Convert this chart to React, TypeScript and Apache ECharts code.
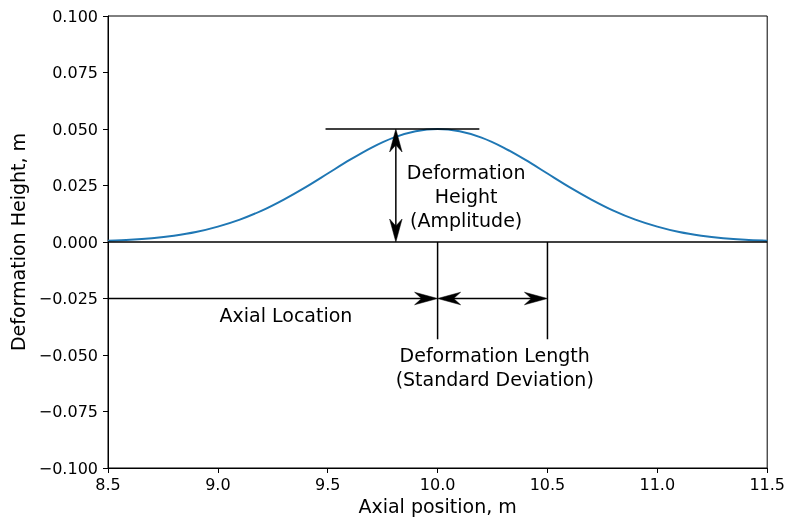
import React, { useEffect, useRef } from "react";
import * as echarts from "echarts";

const axialPositions = [
  8.5, 8.6, 8.7, 8.8, 8.9, 9.0, 9.1, 9.2, 9.3, 9.4, 9.5, 9.6, 9.7, 9.8, 9.9, 10.0,
  10.1, 10.2, 10.3, 10.4, 10.5, 10.6, 10.7, 10.8, 10.9, 11.0, 11.1, 11.2, 11.3, 11.4, 11.5,
];
const deformationHeights = [
  0.00056, 0.00099, 0.0017, 0.0028, 0.0044, 0.0068, 0.0099, 0.0139, 0.0188, 0.0243, 0.0303,
  0.0363, 0.0418, 0.0462, 0.049, 0.05, 0.049, 0.0462, 0.0418, 0.0363, 0.0303, 0.0243, 0.0188,
  0.0139, 0.0099, 0.0068, 0.0044, 0.0028, 0.0017, 0.00099, 0.00056,
];

const baseLine = [[8.5, 0], [11.5, 0]];
const peakLine = [[9.49, 0.05], [10.19, 0.05]];
const meanLine = [[10.0, 0], [10.0, -0.043]];
const sigmaLine = [[10.5, 0], [10.5, -0.043]];
// [x1, y1, x2, y2, headAtStart, headAtEnd]
const arrows = [
  [9.81, 0, 9.81, 0.05, 1, 1],
  [8.5, -0.025, 10.0, -0.025, 0, 1],
  [10.0, -0.025, 10.5, -0.025, 1, 1],
];

const annotationTexts = ["Deformation\nHeight\n(Amplitude)", "Axial Location", "Deformation Length\n(Standard Deviation)"];
const annotationPositions = [[10.13, 0.0204], [9.31, -0.0323], [10.26, -0.0553]];

const FONT = "DejaVu Sans";
const HEAD_LEN = 23;
const HEAD_W = 12.5;
const NOTCH = 7;

function headPoints(tip: number[], dx: number, dy: number) {
  const px = -dy;
  const py = dx;
  const bx = tip[0] - dx * HEAD_LEN;
  const by = tip[1] - dy * HEAD_LEN;
  return [
    [tip[0], tip[1]],
    [bx + px * HEAD_W / 2, by + py * HEAD_W / 2],
    [bx + dx * NOTCH, by + dy * NOTCH],
    [bx - px * HEAD_W / 2, by - py * HEAD_W / 2],
  ];
}

export default function App() {
  const ref = useRef<HTMLDivElement>(null);
  useEffect(() => {
    if (!ref.current) return;
    const chart = echarts.init(ref.current, undefined, { renderer: "svg" });
    const plainLine = (data: number[][]) => ({
      type: "line",
      data,
      symbol: "none",
      silent: true,
      lineStyle: { color: "#000", width: 1.5 },
      z: 3,
    });
    chart.setOption({
      animation: false,
      grid: {
        left: 108,
        right: 18,
        top: 16,
        bottom: 55,
        show: true,
        borderColor: "#000",
        borderWidth: 1,
      },
      xAxis: {
        type: "value",
        min: 8.5,
        max: 11.5,
        interval: 0.5,
        name: "Axial position, m",
        nameLocation: "middle",
        nameGap: 28,
        nameTextStyle: { fontSize: 19, fontFamily: FONT, color: "#000" },
        axisLine: { onZero: false, lineStyle: { color: "#000", width: 1 } },
        axisTick: { show: true, inside: false, length: 5, lineStyle: { color: "#000" } },
        axisLabel: {
          fontSize: 16,
          fontFamily: FONT,
          color: "#000",
          margin: 8,
          formatter: (v: number) => v.toFixed(1),
        },
        splitLine: { show: false },
      },
      yAxis: {
        type: "value",
        min: -0.1,
        max: 0.1,
        interval: 0.025,
        name: "Deformation Height, m",
        nameLocation: "middle",
        nameGap: 74,
        nameTextStyle: { fontSize: 19, fontFamily: FONT, color: "#000" },
        axisLine: { show: true, onZero: false, lineStyle: { color: "#000", width: 1 } },
        axisTick: { show: true, inside: false, length: 5, lineStyle: { color: "#000" } },
        axisLabel: {
          fontSize: 16,
          fontFamily: FONT,
          color: "#000",
          margin: 10,
          formatter: (v: number) => (Math.abs(v) < 1e-9 ? "0.000" : v.toFixed(3).replace("-", "\u2212")),
        },
        splitLine: { show: false },
      },
      series: [
        {
          type: "line",
          data: axialPositions.map((x, i) => [x, deformationHeights[i]]),
          smooth: 0.3,
          symbol: "none",
          lineStyle: { color: "#1f77b4", width: 2 },
          z: 2,
        },
        plainLine(baseLine),
        plainLine(peakLine),
        plainLine(meanLine),
        plainLine(sigmaLine),
        {
          type: "custom",
          silent: true,
          z: 4,
          data: arrows,
          encode: { x: [0, 2], y: [1, 3] },
          renderItem: (params: any, api: any) => {
            const p1 = api.coord([api.value(0), api.value(1)]);
            const p2 = api.coord([api.value(2), api.value(3)]);
            const hs = api.value(4);
            const he = api.value(5);
            const len = Math.hypot(p2[0] - p1[0], p2[1] - p1[1]);
            const dx = (p2[0] - p1[0]) / len;
            const dy = (p2[1] - p1[1]) / len;
            const inset = HEAD_LEN - NOTCH - 1;
            const s = hs ? [p1[0] + dx * inset, p1[1] + dy * inset] : p1;
            const e = he ? [p2[0] - dx * inset, p2[1] - dy * inset] : p2;
            const children: any[] = [
              {
                type: "line",
                shape: { x1: s[0], y1: s[1], x2: e[0], y2: e[1] },
                style: { stroke: "#000", lineWidth: 1.5 },
              },
            ];
            if (he) {
              children.push({
                type: "polygon",
                shape: { points: headPoints(p2, dx, dy) },
                style: { fill: "#000", stroke: "#000", lineWidth: 0.5 },
              });
            }
            if (hs) {
              children.push({
                type: "polygon",
                shape: { points: headPoints(p1, -dx, -dy) },
                style: { fill: "#000", stroke: "#000", lineWidth: 0.5 },
              });
            }
            return { type: "group", children };
          },
        },
        {
          type: "scatter",
          symbolSize: 0,
          silent: true,
          itemStyle: { opacity: 1 },
          data: annotationTexts.map((t, i) => ({ value: annotationPositions[i], name: t })),
          label: {
            show: true,
            position: "inside",
            formatter: "{b}",
            fontSize: 19,
            fontFamily: FONT,
            color: "#000",
            opacity: 1,
            lineHeight: 24,
            align: "center",
            verticalAlign: "middle",
          },
          z: 5,
        },
      ],
    });
    return () => chart.dispose();
  }, []);
  return <div ref={ref} style={{ position: "fixed", left: 0, top: 0, width: 788, height: 523 }} />;
}
